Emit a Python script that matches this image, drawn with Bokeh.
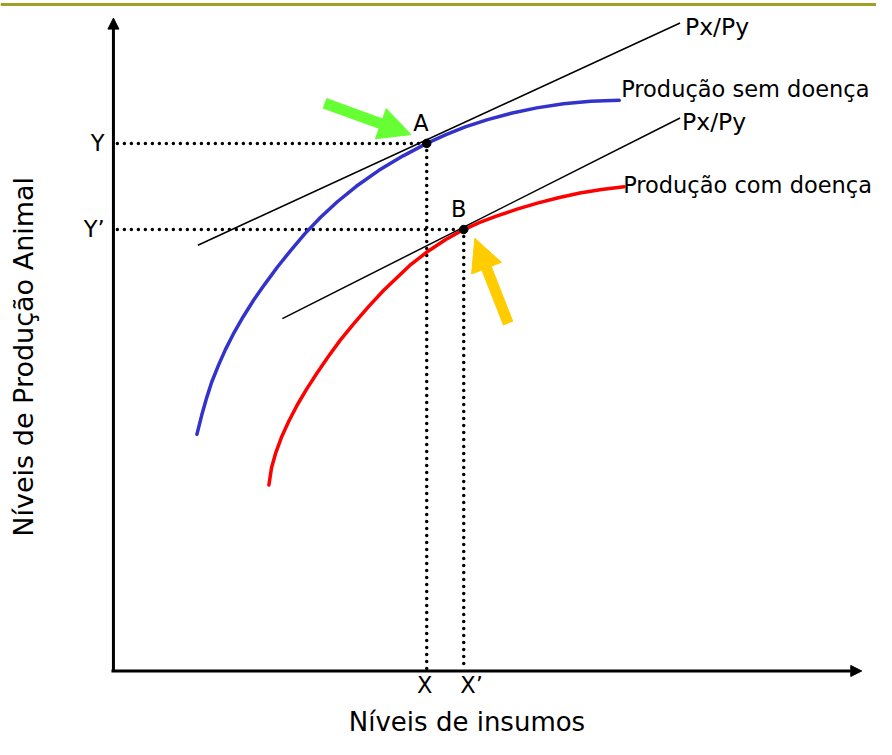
import math
from bokeh.plotting import figure
from bokeh.models import Range1d, Arrow, NormalHead, Span, ColumnDataSource
from bokeh.core.properties import value
from bokeh.embed import file_html
from bokeh.resources import INLINE

# ---- data (abstract units, origin at the axes' crossing) ----
blue_x = [85, 90, 95, 100, 107, 114, 123, 132, 143, 154, 167, 180, 195, 210.7, 228, 247.3,
          270.3, 295, 319, 338, 358.3, 381, 405, 431, 458.3, 486, 515]
blue_y = [241.7, 261.7, 279.3, 295, 312.5, 328.3, 346, 361.7, 379.3, 395, 412.7, 429, 446.8,
          463.3, 479.4, 495.2, 511.5, 526.3, 539, 547.7, 555.8, 563.3, 569.8, 575.3, 579.5, 582, 583]

red_x = [158.3, 161, 165, 171, 178.3, 187, 196.7, 207, 218.3, 231, 245, 260, 275, 301.7, 320,
         338, 356.7, 373, 390, 411, 431.7, 453, 475, 497, 520]
red_y = [190, 207.6, 222, 238.5, 254.6, 271.5, 288, 304, 320.5, 338, 355.1, 372.5, 388.7, 414.3,
         428.6, 440.5, 451, 458.4, 464.7, 471.8, 478, 483.5, 488.3, 492, 494.8]

tan1_x = [86, 577]
tan1_y = [435, 662]
tan2_x = [172, 577]
tan2_y = [360, 565]

pt_names = ["A", "B"]
pt_x = [319, 356.7]
pt_y = [539, 451]

xtick_labels = ["X", "X\u2019"]
ytick_labels = ["Y", "Y\u2019"]
curve_labels = ["Produ\u00e7\u00e3o sem doen\u00e7a", "Produ\u00e7\u00e3o com doen\u00e7a"]
price_label = "Px/Py"
x_title = "N\u00edveis de insumos"
y_title = "N\u00edveis de Produ\u00e7\u00e3o Animal"

X_MAX = 762
Y_MAX = 667

FONT = value("DejaVu Sans")

p = figure(width=876, height=739, x_range=Range1d(-115, 777), y_range=Range1d(-70, 685),
           output_backend="svg", toolbar_location=None, min_border=0,
           x_axis_type=None, y_axis_type=None)
p.grid.visible = False
p.outline_line_color = None
p.background_fill_color = "white"
p.border_fill_color = "white"

# top decorative rule
p.add_layout(Span(location=681, dimension="width", line_color="#a0a024", line_width=3))

# axes with arrow heads
p.add_layout(Arrow(end=NormalHead(size=11, fill_color="black", line_color="black", line_width=1),
                   x_start=-2, y_start=0, x_end=X_MAX, y_end=0, line_width=3, line_color="black"))
p.add_layout(Arrow(end=NormalHead(size=11, fill_color="black", line_color="black", line_width=1),
                   x_start=0, y_start=-1, x_end=0, y_end=Y_MAX, line_width=3, line_color="black"))

# dotted guide lines
guides = ColumnDataSource(dict(
    x0=[4, pt_x[0], 4, pt_x[1]],
    y0=[pt_y[0], pt_y[0], pt_y[1], pt_y[1]],
    x1=[pt_x[0], pt_x[0], pt_x[1], pt_x[1]],
    y1=[pt_y[0], 2, pt_y[1], 2],
))
p.segment(x0="x0", y0="y0", x1="x1", y1="y1", source=guides, line_color="black",
          line_width=3.5, line_dash="0 7", line_cap="round")

# production curves
p.line(blue_x, blue_y, line_color="#3333cc", line_width=3.5, line_join="round", line_cap="round")
p.line(red_x, red_y, line_color="#ff0000", line_width=3.5, line_join="round", line_cap="round")

# price ratio (tangent) lines
p.line(tan1_x, tan1_y, line_color="black", line_width=1.5)
p.line(tan2_x, tan2_y, line_color="black", line_width=1.5)

# tangency points
p.scatter(pt_x, pt_y, size=8.5, color="black")

# highlight arrows
p.add_layout(Arrow(end=NormalHead(size=32, fill_color="#66ff33", line_color="#66ff33", line_width=1),
                   x_start=215, y_start=580, x_end=303, y_end=548,
                   line_width=11, line_color="#66ff33"))
p.add_layout(Arrow(end=NormalHead(size=32, fill_color="#ffcc00", line_color="#ffcc00", line_width=1),
                   x_start=402, y_start=355, x_end=368, y_end=442,
                   line_width=11, line_color="#ffcc00"))

# point labels
p.text(x=[pt_x[0] - 6, pt_x[1] - 5], y=[pt_y[0] + 21, pt_y[1] + 21], text=pt_names,
       text_font=FONT, text_font_size="22.5px", text_align="center", text_baseline="middle",
       text_color="black")

# tick-like labels
p.text(x=[pt_x[0] - 2, pt_x[1] + 8], y=[-14, -14], text=xtick_labels,
       text_font=FONT, text_font_size="22.5px", text_align="center", text_baseline="middle",
       text_color="black")
p.text(x=[-9, -9], y=[pt_y[0], pt_y[1] + 1], text=ytick_labels,
       text_font=FONT, text_font_size="22.5px", text_align="right", text_baseline="middle",
       text_color="black")

# curve labels
p.text(x=[blue_x[-1] + 2, red_x[-1] - 1], y=[blue_y[-1] + 12, red_y[-1] + 2], text=curve_labels,
       text_font=FONT, text_font_size="22.5px", text_align="left", text_baseline="middle",
       text_color="black")
p.text(x=[tan1_x[-1] + 5, tan2_x[-1] + 2], y=[tan1_y[-1] - 4, tan2_y[-1] - 4],
       text=[price_label, price_label],
       text_font=FONT, text_font_size="23.5px", text_align="left", text_baseline="middle",
       text_color="black")

# axis titles
p.text(x=[360], y=[-52], text=[x_title], text_font=FONT, text_font_size="26px",
       text_align="center", text_baseline="middle", text_color="black")
p.text(x=[-92], y=[321], text=[y_title], angle=math.pi / 2, text_font=FONT, text_font_size="27px",
       text_align="center", text_baseline="middle", text_color="black")

open("out.html", "w").write(file_html(p, INLINE))
